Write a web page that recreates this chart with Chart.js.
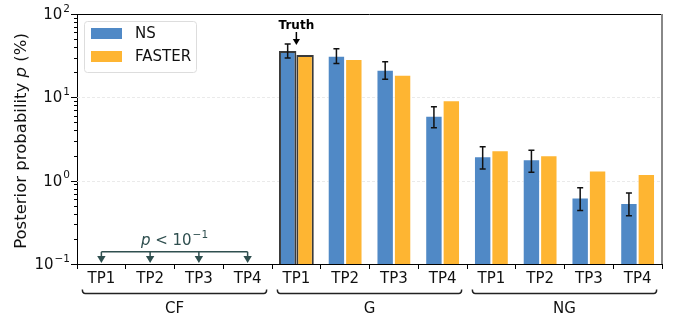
<!DOCTYPE html>
<html>
<head>
<meta charset="utf-8">
<script src="https://cdn.jsdelivr.net/npm/chart.js@4.4.1/dist/chart.umd.min.js"></script>
<style>
    html, body { margin: 0; padding: 0; background: #fff; }
    #wrap { width: 673px; height: 320px; }
</style>
</head>
<body>
<div id="wrap"><canvas id="chart"></canvas></div>
<script>
const categories = ['TP1', 'TP2', 'TP3', 'TP4', 'TP1', 'TP2', 'TP3', 'TP4', 'TP1', 'TP2', 'TP3', 'TP4'];
const groups = ['CF', 'G', 'NG'];
const nsValues = [null, null, null, null, 36, 31.6, 21.5, 6.0, 1.96, 1.81, 0.63, 0.54];
const nsLow = [null, null, null, null, 29.7, 25.4, 16.5, 4.33, 1.38, 1.26, 0.44, 0.38];
const nsHigh = [null, null, null, null, 43.7, 38.4, 26.8, 7.73, 2.56, 2.32, 0.82, 0.71];
const fasterValues = [null, null, null, null, 32.2, 28.9, 18.7, 9.2, 2.32, 2.02, 1.32, 1.2];
const yTicks = [0.1, 1, 10, 100];
const yTickExps = ['−1', '0', '1', '2'];
const truthIndex = 4;
const cfLimit = 0.14;

const FONT = 'DejaVu Sans';
const NS_COLOR = '#5089c6';
const FASTER_COLOR = '#feb532';
const CF_COLOR = '#2f4f4f';

function arrowDown(ctx, x, y1, y2, head, color) {
    ctx.strokeStyle = color;
    ctx.fillStyle = color;
    ctx.beginPath();
    ctx.moveTo(x, y1);
    ctx.lineTo(x, y2 - head);
    ctx.stroke();
    ctx.beginPath();
    ctx.moveTo(x - head * 0.6, y2 - head);
    ctx.lineTo(x + head * 0.6, y2 - head);
    ctx.lineTo(x, y2);
    ctx.closePath();
    ctx.fill();
}

// draws "10^exp" so that its right edge is at xRight, return total width
function powWidth(ctx, exp) {
    ctx.font = '15px ' + FONT;
    const w1 = ctx.measureText('10').width;
    ctx.font = '10.5px ' + FONT;
    return w1 + ctx.measureText(exp).width + 1;
}
function drawPow(ctx, exp, xLeft, yMid) {
    ctx.textAlign = 'left';
    ctx.textBaseline = 'middle';
    ctx.font = '15px ' + FONT;
    ctx.fillText('10', xLeft, yMid);
    const w1 = ctx.measureText('10').width;
    ctx.font = '10.5px ' + FONT;
    ctx.fillText(exp, xLeft + w1 + 1, yMid - 6);
}

const decorations = {
    id: 'decorations',
    beforeDatasetsDraw(chart) {
        const { ctx, chartArea: a, scales: { y } } = chart;
        ctx.save();
        ctx.strokeStyle = '#e4e4e4';
        ctx.lineWidth = 0.8;
        ctx.setLineDash([3, 2]);
        [1, 10].forEach(v => {
            const py = Math.round(y.getPixelForValue(v)) + 0.5;
            ctx.beginPath();
            ctx.moveTo(a.left, py);
            ctx.lineTo(a.right, py);
            ctx.stroke();
        });
        ctx.restore();
    },
    afterDatasetsDraw(chart) {
        const { ctx, chartArea: a, scales: { x, y } } = chart;
        const nsMeta = chart.getDatasetMeta(0);
        ctx.save();

        // error bars
        ctx.strokeStyle = '#111';
        ctx.lineWidth = 1.5;
        nsValues.forEach((v, i) => {
            if (v == null) return;
            const px = nsMeta.data[i].x;
            const yt = y.getPixelForValue(nsHigh[i]);
            const yb = y.getPixelForValue(nsLow[i]);
            ctx.beginPath();
            ctx.moveTo(px, yt); ctx.lineTo(px, yb);
            ctx.moveTo(px - 3, yt); ctx.lineTo(px + 3, yt);
            ctx.moveTo(px - 3, yb); ctx.lineTo(px + 3, yb);
            ctx.stroke();
        });

        // spines
        ctx.lineWidth = 1;
        ctx.strokeStyle = '#000';
        ctx.beginPath();
        ctx.moveTo(a.left, a.top + 0.5);
        ctx.lineTo(a.right, a.top + 0.5);
        ctx.stroke();
        ctx.strokeStyle = '#888';
        ctx.lineWidth = 2;
        ctx.beginPath();
        ctx.moveTo(a.right, a.top);
        ctx.lineTo(a.right, a.bottom);
        ctx.stroke();

        // y tick marks and labels
        ctx.strokeStyle = '#000';
        ctx.lineWidth = 1;
        for (let d = -1; d <= 2; d++) {
            for (let m = 1; m <= 9; m++) {
                const v = m * Math.pow(10, d);
                if (v > 100.0001) continue;
                const py = Math.round(y.getPixelForValue(v)) + 0.5;
                const len = m === 1 ? 6 : 3;
                ctx.beginPath();
                ctx.moveTo(a.left - len, py);
                ctx.lineTo(a.left, py);
                ctx.stroke();
            }
        }
        ctx.fillStyle = '#111';
        yTicks.forEach((t, k) => {
            const py = y.getPixelForValue(t);
            const w = powWidth(ctx, yTickExps[k]);
            drawPow(ctx, yTickExps[k], a.left - 7 - w, py + 1);
        });

        // Truth marker
        const tx = x.getPixelForValue(truthIndex);
        ctx.fillStyle = '#000';
        ctx.font = 'bold 12px ' + FONT;
        ctx.textAlign = 'center';
        ctx.textBaseline = 'alphabetic';
        ctx.fillText('Truth', tx, 29);
        ctx.lineWidth = 1.5;
        arrowDown(ctx, tx, 32, 45, 6, '#000');

        // CF upper-limit bracket
        const ly = y.getPixelForValue(cfLimit);
        const yb = y.getPixelForValue(0.1) - 1;
        const x0 = x.getPixelForValue(0), x3 = x.getPixelForValue(3);
        ctx.lineWidth = 1.5;
        ctx.strokeStyle = CF_COLOR;
        ctx.beginPath();
        ctx.moveTo(x0, ly); ctx.lineTo(x3, ly);
        ctx.stroke();
        for (let i = 0; i < 4; i++) {
            arrowDown(ctx, x.getPixelForValue(i), ly, yb, 7, CF_COLOR);
        }
        ctx.font = 'italic 15px ' + FONT;
        const pW = ctx.measureText('p').width;
        ctx.font = '15px ' + FONT;
        const ltW = ctx.measureText(' < ').width;
        const totalW = pW + ltW + powWidth(ctx, '−1');
        let sx = (x0 + x3) / 2 - totalW / 2;
        ctx.fillStyle = CF_COLOR;
        ctx.textAlign = 'left';
        ctx.textBaseline = 'middle';
        ctx.font = 'italic 15px ' + FONT;
        ctx.fillText('p', sx, 241);
        ctx.font = '15px ' + FONT;
        ctx.fillText(' < ', sx + pW, 241);
        drawPow(ctx, '−1', sx + pW + ltW, 241);

        ctx.restore();
    },
    afterDraw(chart) {
        const { ctx, chartArea: a, scales: { x } } = chart;
        ctx.save();

        // group brackets and labels
        const step = x.getPixelForValue(1) - x.getPixelForValue(0);
        groups.forEach((g, k) => {
            const x1 = x.getPixelForValue(k * 4) - step * 0.39;
            const x2 = x.getPixelForValue(k * 4 + 3) + step * 0.39;
            const by = 293.5;
            ctx.strokeStyle = '#222';
            ctx.lineWidth = 1.5;
            ctx.beginPath();
            ctx.moveTo(x1, by - 4);
            ctx.quadraticCurveTo(x1, by, x1 + 3, by);
            ctx.lineTo(x2 - 3, by);
            ctx.quadraticCurveTo(x2, by, x2, by - 4);
            ctx.stroke();
            ctx.fillStyle = '#111';
            ctx.font = '15px ' + FONT;
            ctx.textAlign = 'center';
            ctx.textBaseline = 'middle';
            ctx.fillText(g, (x1 + x2) / 2, 309);
        });

        // y axis title with italic p
        const size = '16.5px ';
        const parts = [['Posterior probability ', ''], ['p', 'italic '], [' (%)', '']];
        let total = 0;
        parts.forEach(p => {
            ctx.font = p[1] + size + FONT;
            p.push(ctx.measureText(p[0]).width);
            total += p[2];
        });
        ctx.translate(22, (a.top + a.bottom) / 2 + 2);
        ctx.rotate(-Math.PI / 2);
        ctx.fillStyle = '#111';
        ctx.textAlign = 'left';
        ctx.textBaseline = 'middle';
        let cx = -total / 2;
        parts.forEach(p => {
            ctx.font = p[1] + size + FONT;
            ctx.fillText(p[0], cx, 0);
            cx += p[2];
        });
        ctx.restore();

        // legend
        ctx.save();
        const lx = 84, ly = 21, lw = 112, lh = 51;
        ctx.fillStyle = 'rgba(255,255,255,0.85)';
        ctx.strokeStyle = '#dddddd';
        ctx.lineWidth = 1;
        ctx.beginPath();
        ctx.roundRect(lx + 0.5, ly + 0.5, lw, lh, 3);
        ctx.fill();
        ctx.stroke();
        const items = [['NS', NS_COLOR], ['FASTER', FASTER_COLOR]];
        items.forEach((it, i) => {
            const iy = ly + 7 + i * 23;
            ctx.fillStyle = it[1];
            ctx.fillRect(lx + 7, iy, 31, 11);
            ctx.fillStyle = '#111';
            ctx.font = '15px ' + FONT;
            ctx.textAlign = 'left';
            ctx.textBaseline = 'middle';
            ctx.fillText(it[0], lx + 51, iy + 6);
        });
        ctx.restore();
    }
};

const highlight = categories.map((c, i) => i === truthIndex);

new Chart(document.getElementById('chart'), {
    type: 'bar',
    data: {
        labels: categories,
        datasets: [
            {
                label: 'NS',
                data: nsValues,
                backgroundColor: NS_COLOR,
                borderColor: highlight.map(h => h ? '#3a3a3a' : 'rgba(255,255,255,0.6)'),
                borderWidth: highlight.map(h => h ? 2 : 1),
                categoryPercentage: 0.714,
                barPercentage: 1.0
            },
            {
                label: 'FASTER',
                data: fasterValues,
                backgroundColor: FASTER_COLOR,
                borderColor: highlight.map(h => h ? '#3a3a3a' : 'rgba(255,255,255,0.6)'),
                borderWidth: highlight.map(h => h ? 2 : 1),
                categoryPercentage: 0.714,
                barPercentage: 1.0
            }
        ]
    },
    options: {
        responsive: true,
        maintainAspectRatio: false,
        animation: false,
        layout: { padding: { left: 0, top: 14, right: 11, bottom: 0 } },
        plugins: {
            legend: { display: false },
            tooltip: { enabled: false }
        },
        scales: {
            x: {
                type: 'category',
                afterFit: s => { s.height = 56; },
                grid: { drawOnChartArea: false, drawTicks: true, tickLength: 5, tickColor: '#000' },
                border: { color: '#000', width: 1 },
                ticks: { color: '#111', font: { family: FONT, size: 15 }, padding: 1, maxRotation: 0, autoSkip: false }
            },
            y: {
                type: 'logarithmic',
                min: 0.1,
                max: 100,
                afterFit: s => { s.width = 77; },
                grid: { display: false, drawTicks: false },
                border: { color: '#000', width: 1 },
                ticks: { display: false }
            }
        }
    },
    plugins: [decorations]
});
</script>
</body>
</html>
